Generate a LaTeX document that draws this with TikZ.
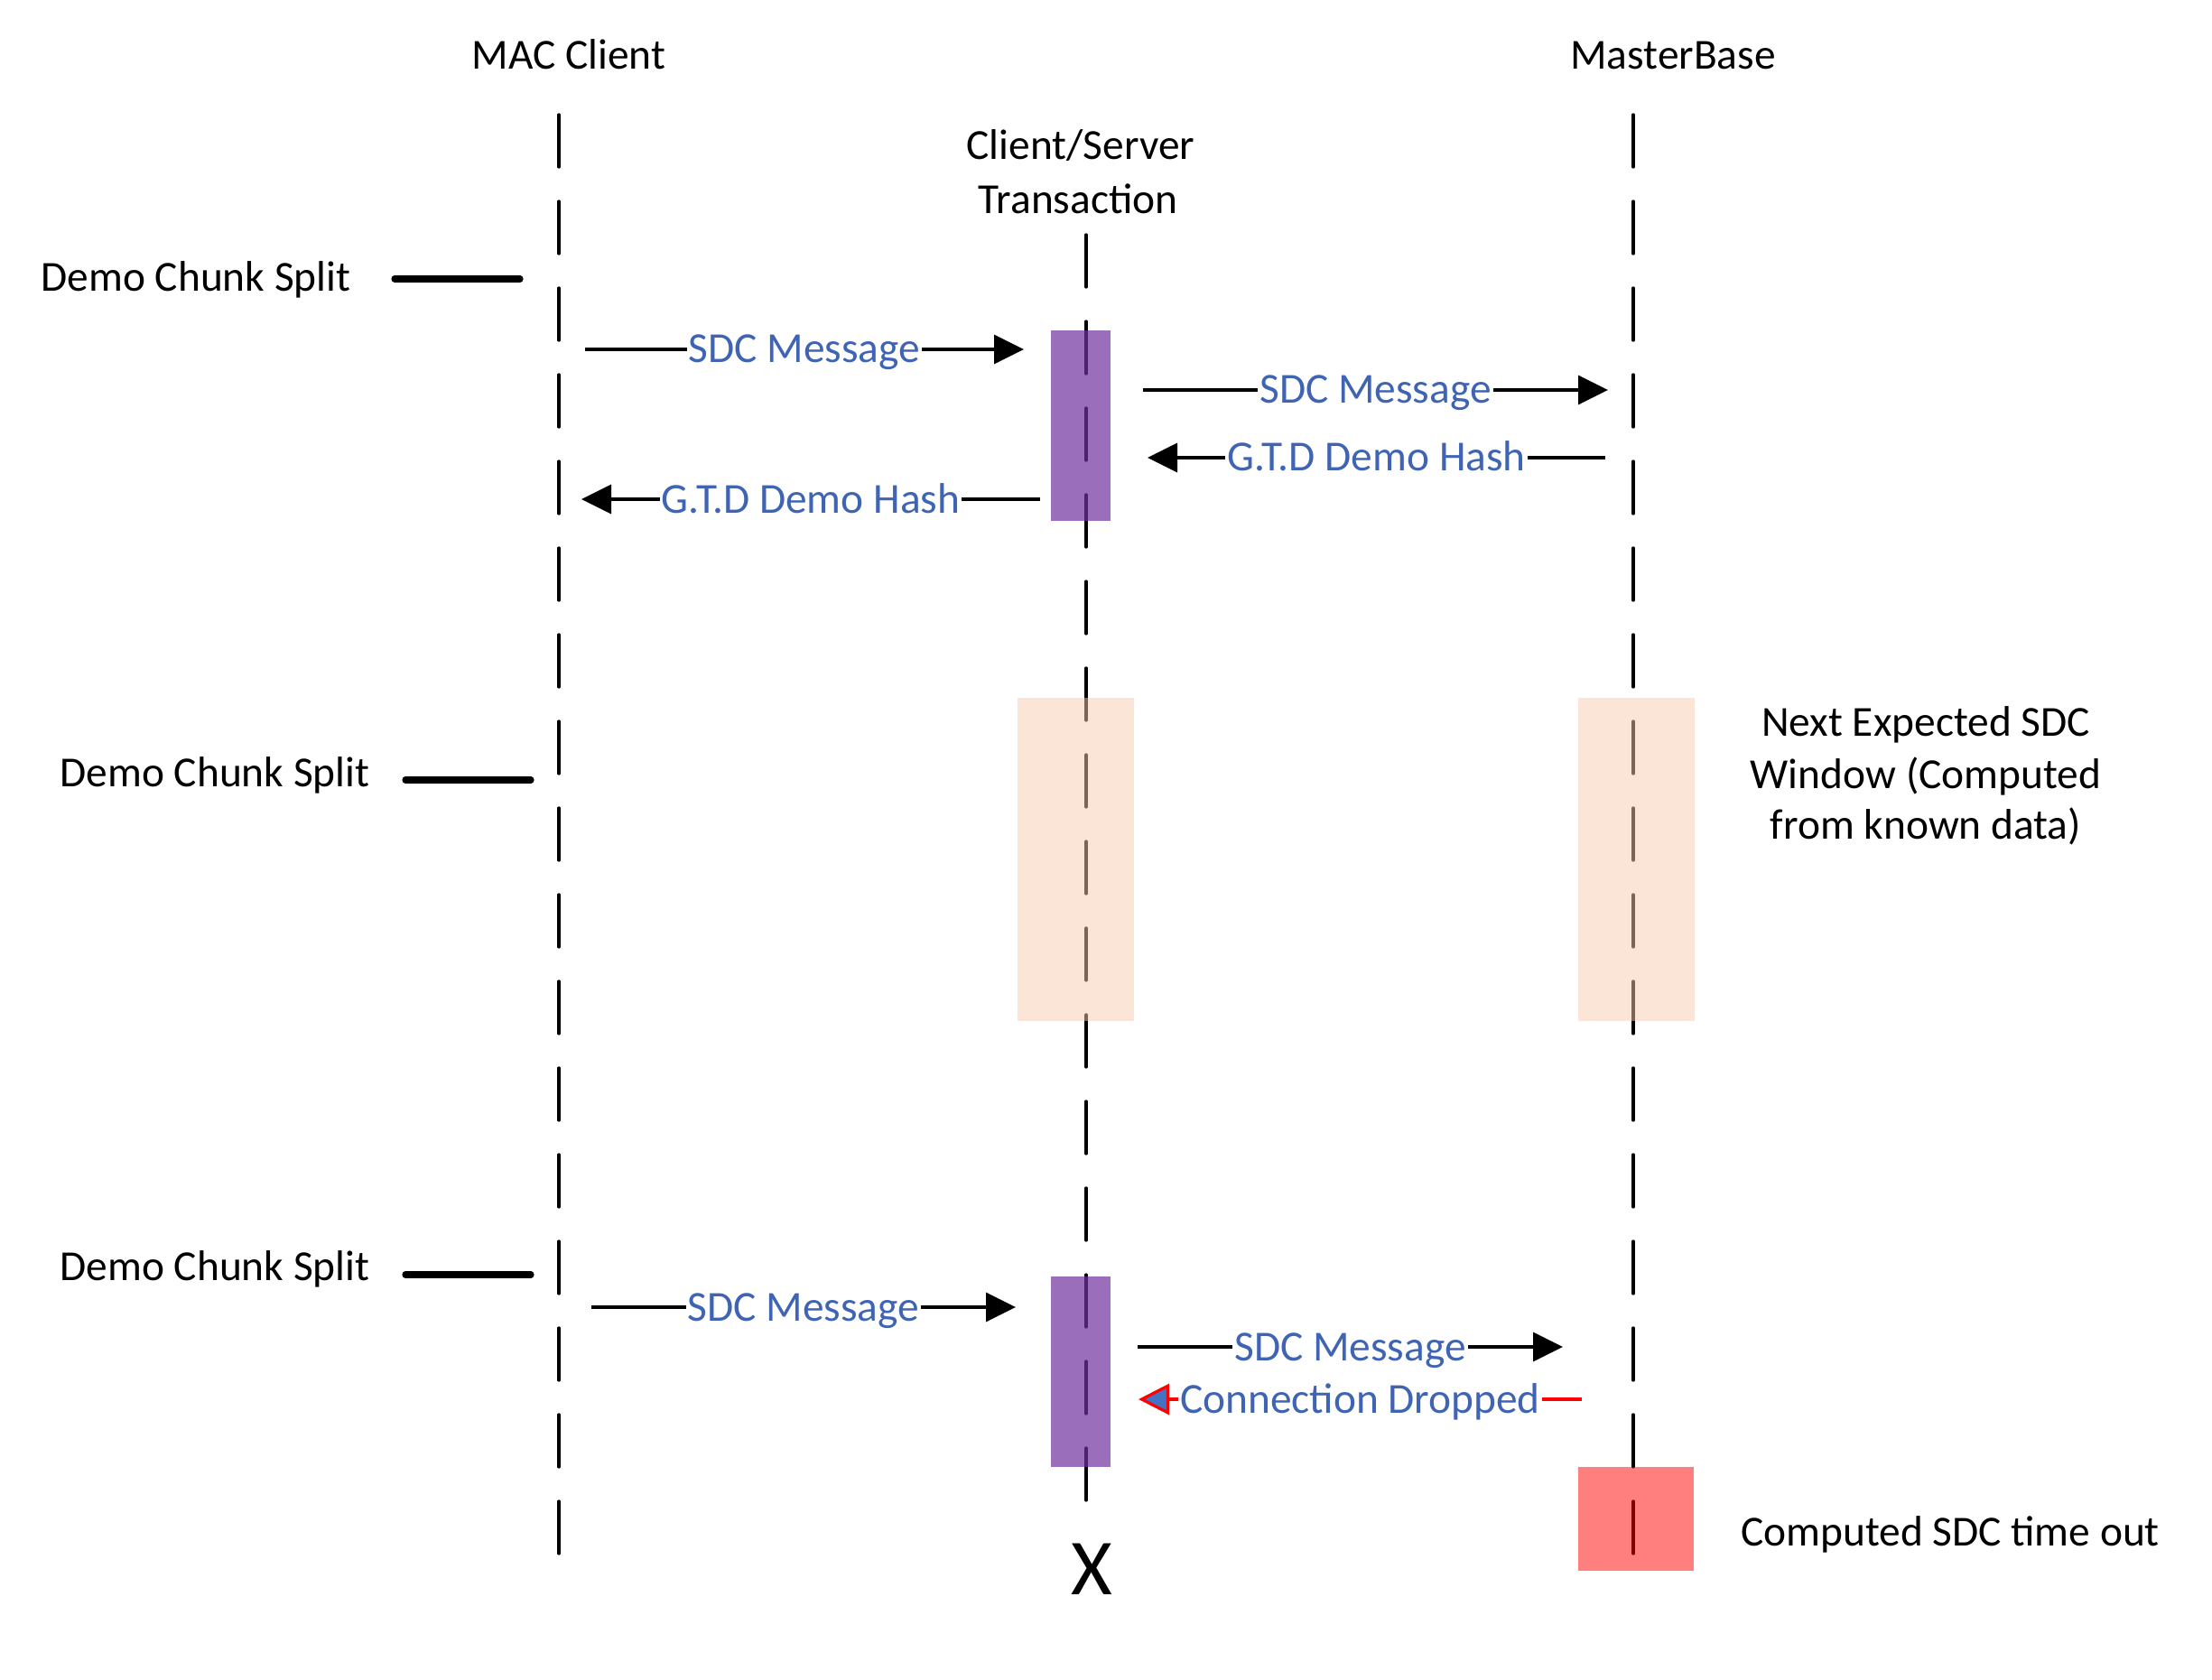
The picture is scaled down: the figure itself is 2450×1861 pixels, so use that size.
\documentclass[tikz,border=0pt]{standalone}
\usepackage{fontspec}
\setmainfont{Carlito}
\usetikzlibrary{arrows.meta}
\definecolor{lbl}{RGB}{63,100,180}
\definecolor{hd}{RGB}{68,114,196}
\definecolor{purp}{RGB}{112,48,160}
\definecolor{peach}{RGB}{248,203,173}
\begin{document}
\begin{tikzpicture}[x=0.5pt,y=-0.5pt,
  font=\fontsize{23.7}{28.5}\selectfont,
  life/.style={line width=1.65pt, dash pattern=on 29pt off 19pt, line cap=round},
  msg/.style={line width=1.65pt, -{Triangle[length=16.5pt,width=16pt]}},
  drop/.style={draw=red, line width=2pt, -{Triangle[length=17pt,width=17pt,fill=hd,line width=1.6pt]}},
  lab/.style={midway, anchor=base, yshift=-7.5pt, fill=white, text=lbl, inner xsep=1pt, inner ysep=0pt},
  split/.style={line width=3.6pt, line cap=round},
  txt/.style={anchor=base, inner sep=0pt},
  actbox/.style={fill=purp, fill opacity=0.7, inner sep=0pt, minimum width=33pt, minimum height=105.5pt},
  winbox/.style={fill=peach, fill opacity=0.5, inner sep=0pt, minimum width=64.5pt, minimum height=179pt},
  tobox/.style={fill=red, fill opacity=0.5, inner sep=0pt, minimum width=64pt, minimum height=57.5pt}]
\useasboundingbox (0,0) rectangle (2450,1861);
% headers
\node[txt] (mac) at (630,77) {MAC Client};
\node[txt] (mb) at (1853,77) {MasterBase};
\node[txt] (cs1) at (1197,177) {Client/Server};
\node[txt] (cs2) at (1194,237) {Transaction};
% lifelines
\coordinate (macT) at (619,127); \coordinate (macB) at (619,1722);
\coordinate (csT) at (1203,260); \coordinate (csB) at (1203,1663);
\coordinate (mbT) at (1809,127); \coordinate (mbB) at (1809,1722);
\draw[life] (macT) -- (macB);
\draw[life] (csT) -- (csB);
\draw[life] (mbT) -- (mbB);
% boxes
\node[actbox] (act1) at (1197,471.5) {};
\node[actbox] (act2) at (1197,1519.5) {};
\node[winbox] (win1) at (1191.5,952) {};
\node[winbox] (win2) at (1812,952) {};
\node[tobox] (tout) at (1812,1682.5) {};
% demo chunk splits
\node[txt] (d1) at (217,323) {Demo Chunk Split};
\node[txt] (d2) at (238,871) {Demo Chunk Split};
\node[txt] (d3) at (238,1418) {Demo Chunk Split};
\coordinate (s1a) at (437,309); \coordinate (s1b) at (576,309);
\coordinate (s2a) at (449,864); \coordinate (s2b) at (588,864);
\coordinate (s3a) at (449,1412); \coordinate (s3b) at (588,1412);
\draw[split] (s1a) -- (s1b);
\draw[split] (s2a) -- (s2b);
\draw[split] (s3a) -- (s3b);
% messages
\coordinate (a1s) at (648,387); \coordinate (a1e) at (1134,387);
\coordinate (a2s) at (1266,432); \coordinate (a2e) at (1781,432);
\coordinate (a3s) at (1778,507); \coordinate (a3e) at (1271,507);
\coordinate (a4s) at (1152,553); \coordinate (a4e) at (644,553);
\coordinate (a5s) at (655,1448); \coordinate (a5e) at (1125,1448);
\coordinate (a6s) at (1260,1492); \coordinate (a6e) at (1731,1492);
\coordinate (a7s) at (1752,1550); \coordinate (a7e) at (1261,1550);
\draw[msg] (a1s) -- node[lab] (l1) {SDC Message} (a1e);
\draw[msg] (a2s) -- node[lab] (l2) {SDC Message} (a2e);
\draw[msg] (a3s) -- node[lab] (l3) {G.T.D Demo Hash} (a3e);
\draw[msg] (a4s) -- node[lab] (l4) {G.T.D Demo Hash} (a4e);
\draw[msg] (a5s) -- node[lab] (l5) {SDC Message} (a5e);
\draw[msg] (a6s) -- node[lab] (l6) {SDC Message} (a6e);
\draw[drop] (a7s) -- node[lab] (l7) {Connection Dropped} (a7e);
% notes
\node[txt] (n1) at (2133,815) {Next Expected SDC};
\node[txt] (n2) at (2133,873) {Window (Computed};
\node[txt] (n3) at (2133,929) {from known data)};
\node[txt] (n4) at (2160,1712) {Computed SDC time out};
\node[txt, font=\fontsize{44}{50}\selectfont] (x) at (1209,1766) {X};
\end{tikzpicture}
\end{document}
